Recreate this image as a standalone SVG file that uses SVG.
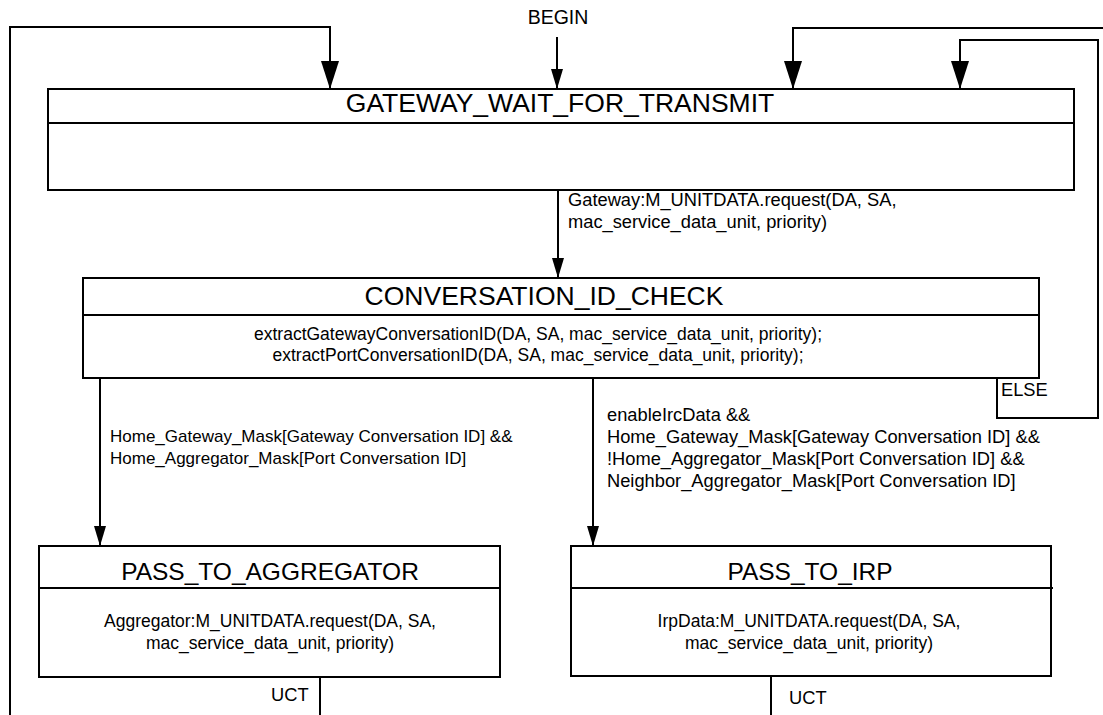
<svg xmlns="http://www.w3.org/2000/svg" width="1103" height="715" viewBox="0 0 1103 715">
  <style>
    .box { fill: #ffffff; stroke: #000000; stroke-width: 2; }
    .div { stroke: #000000; stroke-width: 2; }
    .wire { fill: none; stroke: #000000; stroke-width: 2; }
    .arr-s { marker-end: url(#headSmall); }
    .arr-l { marker-end: url(#headLarge); }
    text { font-family: "Liberation Sans", Arial, sans-serif; fill: #000000; }
    .title { font-size: 26.5px; text-anchor: middle; }
    .title2 { font-size: 24.5px; text-anchor: middle; }
    .body { font-size: 17.5px; text-anchor: middle; }
    .lbl { font-size: 18.3px; }
    .lbl-sm { font-size: 17px; }
  </style>
  <defs>
    <marker id="headSmall" viewBox="0 0 20 12" refX="20" refY="6" markerWidth="20" markerHeight="12" markerUnits="userSpaceOnUse" orient="auto">
      <path d="M0,0 L20,6 L0,12 z" fill="#000000"/>
    </marker>
    <marker id="headLarge" viewBox="0 0 28 18" refX="28" refY="9" markerWidth="28" markerHeight="18" markerUnits="userSpaceOnUse" orient="auto">
      <path d="M0,0 L28,9 L0,18 z" fill="#000000"/>
    </marker>
  </defs>

  <!-- transitions -->
  <g id="connectors">
    <!-- BEGIN -->
    <path class="wire arr-s" d="M557,37 L557,89"/>
    <!-- UCT from PASS_TO_AGGREGATOR, returning along the left margin -->
    <path class="wire" d="M320,677 L320,715"/>
    <path class="wire arr-l" d="M10,715 L10,27 L330,27 L330,89"/>
    <!-- UCT from PASS_TO_IRP, returning along the top -->
    <path class="wire" d="M771,676 L771,715"/>
    <path class="wire arr-l" d="M1103,28 L793,28 L793,89"/>
    <!-- ELSE loop -->
    <path class="wire arr-l" d="M997,378 L997,418 L1098,418 L1098,40 L960,40 L960,89"/>
    <!-- GATEWAY_WAIT_FOR_TRANSMIT -> CONVERSATION_ID_CHECK -->
    <path class="wire arr-s" d="M558,190 L558,278"/>
    <!-- CONVERSATION_ID_CHECK -> PASS_TO_AGGREGATOR -->
    <path class="wire arr-s" d="M100,378 L100,546"/>
    <!-- CONVERSATION_ID_CHECK -> PASS_TO_IRP -->
    <path class="wire arr-s" d="M593,378 L593,546"/>

    <text class="lbl" x="558" y="24" style="text-anchor: middle; font-size: 19.5px">BEGIN</text>
    <text class="lbl" x="568" y="206">Gateway:M_UNITDATA.request(DA, SA,</text>
    <text class="lbl" x="568" y="228">mac_service_data_unit, priority)</text>
    <text class="lbl" x="1001" y="396">ELSE</text>
    <text class="lbl-sm" x="110" y="442">Home_Gateway_Mask[Gateway Conversation ID] &amp;&amp;</text>
    <text class="lbl-sm" x="110" y="464">Home_Aggregator_Mask[Port Conversation ID]</text>
    <text class="lbl" x="607" y="421">enableIrcData &amp;&amp;</text>
    <text class="lbl" x="607" y="443">Home_Gateway_Mask[Gateway Conversation ID] &amp;&amp;</text>
    <text class="lbl" x="607" y="465">!Home_Aggregator_Mask[Port Conversation ID] &amp;&amp;</text>
    <text class="lbl" x="607" y="487">Neighbor_Aggregator_Mask[Port Conversation ID]</text>
    <text class="lbl" x="271" y="701">UCT</text>
    <text class="lbl" x="789" y="704">UCT</text>
  </g>

  <g id="GATEWAY_WAIT_FOR_TRANSMIT">
    <rect class="box" x="48" y="89" width="1026" height="101"/>
    <line class="div" x1="48" y1="123" x2="1074" y2="123"/>
    <text class="title" x="560" y="112">GATEWAY_WAIT_FOR_TRANSMIT</text>
  </g>

  <g id="CONVERSATION_ID_CHECK">
    <rect class="box" x="83" y="278" width="956" height="100"/>
    <line class="div" x1="83" y1="315" x2="1039" y2="315"/>
    <text class="title" x="544" y="305">CONVERSATION_ID_CHECK</text>
    <text class="body" x="538" y="340">extractGatewayConversationID(DA, SA, mac_service_data_unit, priority);</text>
    <text class="body" x="538" y="361">extractPortConversationID(DA, SA, mac_service_data_unit, priority);</text>
  </g>

  <g id="PASS_TO_AGGREGATOR">
    <rect class="box" x="39" y="546" width="461" height="131"/>
    <line class="div" x1="39" y1="588" x2="500" y2="588"/>
    <text class="title2" x="270" y="580">PASS_TO_AGGREGATOR</text>
    <text class="body" x="270" y="627">Aggregator:M_UNITDATA.request(DA, SA,</text>
    <text class="body" x="270" y="649">mac_service_data_unit, priority)</text>
  </g>

  <g id="PASS_TO_IRP">
    <rect class="box" x="571" y="546" width="480" height="130"/>
    <line class="div" x1="571" y1="588" x2="1053" y2="588"/>
    <text class="title2" x="810" y="580">PASS_TO_IRP</text>
    <text class="body" x="809" y="627">IrpData:M_UNITDATA.request(DA, SA,</text>
    <text class="body" x="809" y="649">mac_service_data_unit, priority)</text>
  </g>
</svg>
